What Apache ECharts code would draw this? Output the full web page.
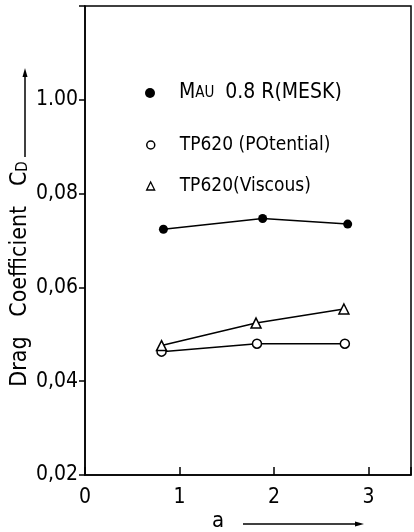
<!DOCTYPE html>
<html lang="en">

<head>
  <meta charset="UTF-8">
  <title>Drag coefficient</title>
  <style>
    html,
    body {
      width: 100%;
      height: 100%;
      padding: 0;
      margin: 0;
      background: #fff;
    }

    #eChart {
      width: 414px;
      height: 532px;
    }
  </style>
</head>

<body>
  <div id="eChart"></div>

  <script src="https://cdn.jsdelivr.net/npm/echarts@6/dist/echarts.min.js"></script>
  <script>
    // data
    var meskData = [[0.83, 0.0724], [1.88, 0.0747], [2.78, 0.0735]];
    var potentialData = [[0.81, 0.0463], [1.82, 0.0480], [2.75, 0.0480]];
    var viscousData = [[0.81, 0.0476], [1.81, 0.0524], [2.74, 0.0554]];
    var yTickLabels = { '0.02': '0,02', '0.04': '0,04', '0.06': '0,06', '0.08': '0,08', '0.1': '1.00' };
    var xTickLabels = ['0', '1', '2', '3'];

    var FONT = '"DejaVu Sans Condensed", "DejaVu Sans", sans-serif';

    var myChart = echarts.init(document.getElementById('eChart'));

    // one legend per entry so each row sits where the figure has it
    function legendFor(name, top, item) {
      return {
        top: top,
        left: 150 - item.size / 2,
        padding: 0,
        itemWidth: item.size,
        itemHeight: item.size,
        data: [{ name: name, icon: item.icon, itemStyle: item.style }],
        selectedMode: false,
        textStyle: {
          fontFamily: FONT,
          fontSize: 19,
          color: '#000',
          lineHeight: 22,
          padding: [0, 0, 0, 24 - item.size / 2],
          rich: {
            s: { fontFamily: FONT, fontSize: 15, color: '#000' },
            b: { fontFamily: FONT, fontSize: 21, color: '#000' }
          }
        },
        formatter: function (n) {
          if (n === 'MESK') return '{b|M}{s|AU}  {b|0.8 R(MESK)}';
          return n;
        }
      };
    }

    var option = {
      animation: false,
      backgroundColor: '#fff',
      grid: {
        left: 85,
        right: 2,
        top: 6,
        bottom: 57,
        show: true,
        borderColor: '#000',
        borderWidth: 1.5
      },
      legend: [
        legendFor('MESK', 82, { icon: 'circle', size: 10, style: { color: '#000' } }),
        legendFor('TP620 (POtential)', 134, { icon: 'circle', size: 8, style: { color: '#fff', borderColor: '#000', borderWidth: 1.5 } }),
        legendFor('TP620(Viscous)', 175, { icon: 'triangle', size: 8, style: { color: '#fff', borderColor: '#000', borderWidth: 1.3 } })
      ],
      xAxis: {
        type: 'value',
        min: 0,
        max: 3.45,
        interval: 1,
        axisLine: { lineStyle: { color: '#000', width: 1.5 } },
        axisTick: { inside: true, length: 8, lineStyle: { color: '#000', width: 1.5 } },
        splitLine: { show: false },
        axisLabel: {
          margin: 12,
          fontFamily: FONT,
          fontSize: 21,
          color: '#000',
          formatter: function (v) {
            return Number.isInteger(v) ? xTickLabels[v] : '';
          }
        }
      },
      yAxis: {
        type: 'value',
        min: 0.02,
        max: 0.12,
        interval: 0.02,
        axisLine: { lineStyle: { color: '#000', width: 1.5 } },
        axisTick: { length: 6, lineStyle: { color: '#000', width: 1.5 } },
        splitLine: { show: false },
        axisLabel: {
          margin: 7,
          fontFamily: FONT,
          fontSize: 21,
          color: '#000',
          formatter: function (v) {
            var key = String(Math.round(v * 100) / 100);
            return yTickLabels[key] || '';
          }
        }
      },
      series: [
        {
          name: 'MESK',
          type: 'line',
          data: meskData,
          symbol: 'circle',
          symbolSize: 9,
          itemStyle: { color: '#000' },
          lineStyle: { color: '#000', width: 1.5 }
        },
        {
          name: 'TP620 (POtential)',
          type: 'line',
          data: potentialData,
          symbol: 'circle',
          symbolSize: 9,
          itemStyle: { color: '#fff', borderColor: '#000', borderWidth: 1.5 },
          lineStyle: { color: '#000', width: 1.5 }
        },
        {
          name: 'TP620(Viscous)',
          type: 'line',
          data: viscousData,
          symbol: 'triangle',
          symbolSize: 10,
          itemStyle: { color: '#fff', borderColor: '#000', borderWidth: 1.5 },
          lineStyle: { color: '#000', width: 1.5 }
        }
      ],
      graphic: [
        // y axis title with arrow
        {
          type: 'text',
          x: 20,
          y: 274,
          rotation: Math.PI / 2,
          style: {
            text: 'Drag   Coefficient   C{sub|D}',
            fontFamily: FONT,
            fontSize: 23,
            fill: '#000',
            align: 'center',
            verticalAlign: 'middle',
            rich: {
              sub: { fontFamily: FONT, fontSize: 15, fill: '#000', padding: [7, 0, 0, 0] }
            }
          }
        },
        {
          type: 'line',
          shape: { x1: 25, y1: 157, x2: 25, y2: 74 },
          style: { stroke: '#000', lineWidth: 1.5 }
        },
        {
          type: 'polygon',
          shape: { points: [[25, 68], [22.5, 77], [27.5, 77]] },
          style: { fill: '#000' }
        },
        // x axis title with arrow
        {
          type: 'text',
          x: 218,
          y: 521,
          style: {
            text: 'a',
            fontFamily: FONT,
            fontSize: 22,
            fill: '#000',
            align: 'center',
            verticalAlign: 'middle'
          }
        },
        {
          type: 'line',
          shape: { x1: 243, y1: 524, x2: 358, y2: 524 },
          style: { stroke: '#000', lineWidth: 1.5 }
        },
        {
          type: 'polygon',
          shape: { points: [[364, 524], [355, 521.5], [355, 526.5]] },
          style: { fill: '#000' }
        }
      ]
    };

    myChart.setOption(option);
  </script>
</body>

</html>
